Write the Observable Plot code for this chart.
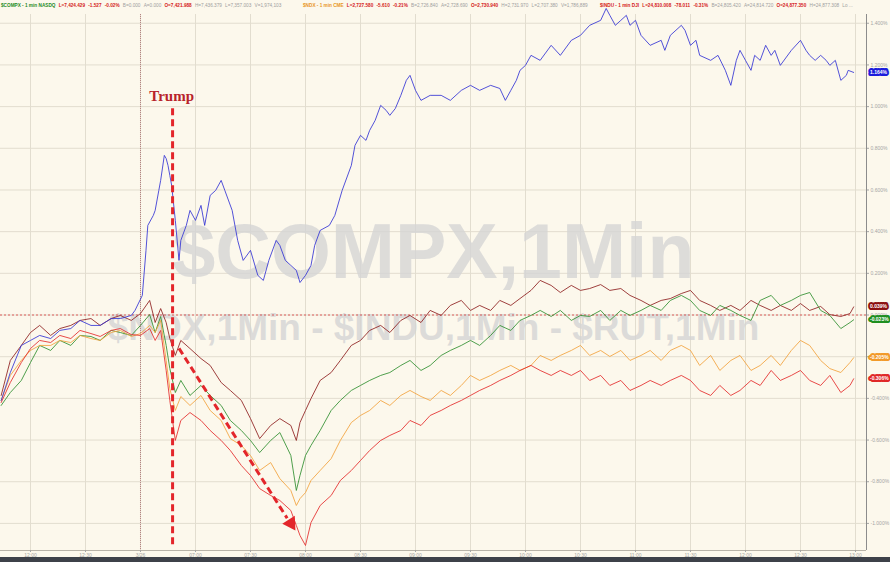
<!DOCTYPE html>
<html><head><meta charset="utf-8">
<script src="https://cdn.jsdelivr.net/npm/d3@7"></script>
<script src="https://cdn.jsdelivr.net/npm/@observablehq/plot@0.6"></script>
<style>
html,body{margin:0;padding:0;background:#fcf8ec;}
#wrap{width:890px;height:562px;overflow:hidden;background:#fcf8ec;}
#footer{height:5px;background:#3d4149;}
svg{display:block;}
</style></head><body><div id="wrap"><div id="header"></div><div id="chart"></div><div id="footer"></div></div>
<script>
// time in minutes from the first labelled tick; values in % change
const minutes = [-16,-11,-5,0,5,11,16,22,27,33,38,44,49,55,60,65,68,71,74,76,79,82,87,93,98,104,109,115,120,125,131,136,142,145,147,150,153,158,164,169,175,180,185,191,196,202,207,213,218,224,229,235,240,245,251,256,262,267,273,278,284,289,295,300,305,311,316,322,327,333,338,344,349,355,360,365,371,376,382,387,393,398,404,409,415,420,425,431,436,442,447,449];
const maroonPct = [-0.386,-0.218,-0.146,-0.084,-0.050,-0.098,-0.065,-0.050,-0.026,-0.017,-0.050,-0.017,-0.002,-0.026,0.007,0.070,
 -0.036,0.031,-0.036,-0.113,-0.194,-0.122,
 -0.161,-0.209,-0.242,-0.324,-0.362,-0.410,-0.497,-0.593,-0.530,-0.497,-0.530,
 -0.602,-0.516,-0.458,
 -0.401,-0.314,-0.276,-0.218,-0.146,-0.122,-0.074,-0.050,-0.084,-0.026,-0.002,-0.036,0.022,-0.002,0.046,0.070,0.022,0.046,0.022,0.070,0.046,0.079,0.118,0.166,0.142,0.108,0.142,0.118,0.127,0.146,0.118,0.127,0.094,0.070,0.046,0.070,0.079,0.103,0.118,0.070,0.046,0.022,0.046,0.022,0.070,0.046,0.022,0.046,0.022,0.055,0.022,0.041,0.002,-0.007,0.007,
 0.039];
const greenPct = [-0.434,-0.372,-0.314,-0.228,-0.146,-0.170,-0.122,-0.146,-0.098,-0.103,-0.122,-0.074,-0.084,-0.098,-0.050,0.002,
 -0.084,-0.007,-0.146,-0.257,-0.372,-0.314,
 -0.386,-0.338,-0.386,-0.434,-0.506,-0.554,-0.602,-0.660,-0.602,-0.564,-0.674,
 -0.842,-0.770,-0.674,
 -0.626,-0.554,-0.458,-0.410,-0.362,-0.338,-0.314,-0.290,-0.276,-0.242,-0.218,-0.266,-0.242,-0.194,-0.170,-0.146,-0.122,-0.146,-0.098,-0.050,-0.074,-0.026,-0.002,0.022,-0.007,0.022,-0.026,-0.002,-0.007,0.022,-0.026,0.022,-0.002,0.022,0.046,0.022,0.070,0.094,0.070,0.022,-0.002,0.046,0.022,-0.002,-0.026,0.070,0.094,0.046,0.070,0.094,0.108,0.022,-0.002,-0.065,-0.036,
 -0.023];
const orangePct = [-0.410,-0.290,-0.218,-0.170,-0.146,-0.146,-0.122,-0.132,-0.098,-0.113,-0.122,-0.084,-0.074,-0.103,-0.089,-0.050,
 -0.084,-0.026,-0.218,-0.353,-0.458,-0.391,
 -0.434,-0.386,-0.458,-0.506,-0.593,-0.626,-0.674,-0.746,-0.708,-0.785,-0.842,
 -0.914,-0.881,-0.852,
 -0.794,-0.746,-0.689,-0.602,-0.516,-0.482,-0.458,-0.410,-0.434,-0.386,-0.362,-0.391,-0.410,-0.362,-0.386,-0.338,-0.290,-0.314,-0.290,-0.266,-0.242,-0.266,-0.242,-0.194,-0.218,-0.194,-0.170,-0.146,-0.194,-0.170,-0.199,-0.170,-0.218,-0.194,-0.170,-0.218,-0.170,-0.146,-0.170,-0.242,-0.194,-0.266,-0.218,-0.194,-0.266,-0.242,-0.194,-0.242,-0.170,-0.122,-0.146,-0.218,-0.257,-0.276,-0.228,
 -0.205];
const redPct = [-0.420,-0.324,-0.228,-0.161,-0.122,-0.132,-0.098,-0.113,-0.074,-0.089,-0.103,-0.074,-0.065,-0.094,-0.098,-0.065,
 -0.122,-0.074,-0.266,-0.410,-0.602,-0.506,
 -0.468,-0.506,-0.554,-0.602,-0.650,-0.722,-0.770,-0.833,-0.866,-0.890,-0.938,
 -1.010,-1.058,-1.106,
 -0.996,-0.914,-0.866,-0.794,-0.746,-0.698,-0.650,-0.602,-0.578,-0.554,-0.506,-0.530,-0.482,-0.458,-0.434,-0.410,-0.386,-0.362,-0.338,-0.314,-0.290,-0.266,-0.242,-0.266,-0.290,-0.266,-0.290,-0.266,-0.314,-0.290,-0.338,-0.314,-0.362,-0.338,-0.314,-0.338,-0.314,-0.290,-0.314,-0.362,-0.386,-0.338,-0.386,-0.362,-0.314,-0.338,-0.266,-0.314,-0.290,-0.266,-0.314,-0.338,-0.290,-0.372,-0.338,
 -0.306];
const compxPairs = [[-16,-0.410],[-11,-0.276],[-5,-0.146],[0,-0.122],[5,-0.098],[11,-0.113],[16,-0.074],[22,-0.065],[27,-0.026],[33,-0.050],[38,-0.050],[44,-0.017],[49,-0.017],[55,-0.002],[57,0.022],[61,0.094],[63,0.310],[64,0.430],[67,0.478],[68,0.502],[70,0.598],[71,0.646],[73,0.766],[74,0.751],[75,0.718],[76,0.670],[77,0.622],[79,0.454],[81,0.262],[82,0.358],[85,0.430],[87,0.502],[90,0.454],[93,0.526],[95,0.430],[98,0.574],[101,0.598],[104,0.646],[106,0.598],[110,0.502],[113,0.358],[116,0.262],[120,0.310],[124,0.190],[127,0.166],[130,0.262],[134,0.358],[136,0.334],[139,0.262],[142,0.238],[145,0.214],[147,0.156],[150,0.190],[153,0.238],[155,0.334],[158,0.406],[163,0.430],[166,0.478],[170,0.598],[175,0.718],[177,0.814],[180,0.862],[183,0.838],[185,0.886],[188,0.934],[191,1.006],[194,0.982],[196,0.958],[199,0.991],[202,1.054],[205,1.126],[207,1.150],[210,1.078],[213,1.030],[218,1.054],[224,1.054],[229,1.030],[235,1.078],[240,1.102],[245,1.078],[251,1.102],[256,1.087],[259,1.030],[262,1.078],[265,1.126],[267,1.174],[270,1.198],[273,1.246],[278,1.222],[284,1.294],[289,1.246],[295,1.318],[300,1.342],[305,1.390],[311,1.414],[314,1.471],[316,1.438],[319,1.390],[322,1.414],[325,1.438],[327,1.390],[330,1.414],[333,1.342],[338,1.294],[344,1.318],[346,1.270],[349,1.342],[355,1.390],[357,1.366],[360,1.294],[363,1.318],[365,1.246],[371,1.222],[375,1.246],[379,1.174],[382,1.102],[385,1.222],[387,1.270],[390,1.222],[393,1.174],[395,1.246],[398,1.222],[401,1.294],[404,1.246],[406,1.270],[409,1.198],[415,1.270],[420,1.318],[423,1.270],[425,1.246],[428,1.222],[431,1.246],[434,1.222],[436,1.198],[439,1.222],[442,1.126],[445,1.150],[446,1.174],[449,1.164]];

const xTicks = [0,30,60,90,120,150,180,210,240,270,300,330,360,390,420,450];
const xLabels = ["12:00","12:30","3/26","07:00","07:30","08:00","08:30","09:00","09:30","10:00","10:30","11:00","11:30","12:00","12:30","13:00"];
const yTicks = [-1.0,-0.8,-0.6,-0.4,-0.2,0,0.2,0.4,0.6,0.8,1.0,1.2,1.4];
const xDomain = [-16.36, 456];
const yDomain = [-1.13, 1.442];
const sessionBreak = 60;
const trumpMinute = 77.5;
const trumpLineTop = 0.99, trumpLineBottom = -1.116, trumpLabelPct = 1.048;
const arrowFrom = [81, -0.16], arrowTo = [140, -0.975], arrowHead = [142, -1.0];

const G = "#1e8a1e", R = "#d42020", Y = "#a0a0a0", O = "#e8961e";
const headerGroups = [
 [1, [["$COMPX - 1 min NASDQ",G,1],["L=7,424.429",R,1],["-1.527",R,1],["-0.02%",R,1],["B=0.000",Y,0],["A=0.000",Y,0],["O=7,421.988",R,1],["H=7,436.379",Y,0],["L=7,357.003",Y,0],["V=1,974,103",Y,0]]],
 [303, [["$NDX - 1 min CME",O,1],["L=2,727.580",R,1],["-5.610",R,1],["-0.21%",R,1],["B=2,726.840",Y,0],["A=2,728.690",Y,0],["O=2,730.940",R,1],["H=2,731.970",Y,0],["L=2,707.380",Y,0],["V=1,786,889",Y,0]]],
 [600, [["$INDU - 1 min DJI",R,1],["L=24,810.008",R,1],["-78.011",R,1],["-0.31%",R,1],["B=24,805.420",Y,0],["A=24,814.720",Y,0],["O=24,877.350",R,1],["H=24,877.308",Y,0],["Lo ...",Y,0]]]
];

const bg = "#fcf8ec";
const grid = "#e2ddcf";
const series = [
 {name:"maroon", color:"#8e1f1f", box:"#8b1010", pts: minutes.map((t,i)=>({t, v: maroonPct[i]}))},
 {name:"green", color:"#2f8f2f", box:"#1f8f1f", pts: minutes.map((t,i)=>({t, v: greenPct[i]}))},
 {name:"orange", color:"#f2a23c", box:"#f29a2a", pts: minutes.map((t,i)=>({t, v: orangePct[i]}))},
 {name:"red", color:"#e42a2a", box:"#e02828", pts: minutes.map((t,i)=>({t, v: redPct[i]}))},
 {name:"$COMPX", color:"#3434d4", box:"#1c1cdc", pts: compxPairs.map(([t,v])=>({t, v}))}
];

// header
const hdr = d3.create("svg").attr("width",890).attr("height",14).style("background",bg);
const gText = hdr.selectAll("text").data(headerGroups).join("text")
  .attr("x", d=>d[0]).attr("y", 7)
  .attr("font-family","Liberation Sans, Arial, sans-serif")
  .attr("font-size", 4.7);
gText.selectAll("tspan").data(d=>d[1]).join("tspan")
  .attr("dx", (d,i)=> i ? 3.2 : 0)
  .attr("font-weight", d=>d[2] ? "bold" : "normal")
  .attr("fill", d=>d[1]).text(d=>d[0]);
document.getElementById("header").appendChild(hdr.node());

const red = "#e3262b";
const marks = [
  Plot.gridY(yTicks, {stroke: grid, strokeOpacity: 1}),
  Plot.gridX(xTicks, {stroke: grid, strokeOpacity: 1}),
  Plot.text(["$COMPX,1Min"], {text: d=>d, frameAnchor:"middle", dy:-29, fontSize:77, fontWeight:"bold", fill:"#d4d4d4", fillOpacity:0.8}),
  Plot.text(["$NDX,1Min - $INDU,1Min - $RUT,1Min"], {text: d=>d, frameAnchor:"middle", dy:46, fontSize:37, fontWeight:"bold", fill:"#d4d4d4", fillOpacity:0.8}),
  Plot.ruleX([sessionBreak], {stroke:"#b07878", strokeDasharray:"1,1", strokeWidth:0.9}),
  Plot.ruleY([0], {stroke:"#d83a3a", strokeDasharray:"2,2", strokeWidth:0.8}),
  ...series.map(s => Plot.line(s.pts, {x:"t", y:"v", stroke:s.color, strokeWidth:0.85})),
  Plot.ruleY([yDomain[0]], {stroke:"#b8b3a8"}),
  Plot.ruleX([xDomain[1]], {stroke:"#8c8c8c"}),
  Plot.ruleX([trumpMinute], {y1: trumpLineTop, y2: trumpLineBottom, stroke: red, strokeWidth:3, strokeDasharray:"7,4"}),
  Plot.text(["Trump"], {text:d=>d, x: ()=>trumpMinute - 0.5, y: ()=>trumpLabelPct, fontFamily:"Liberation Serif, DejaVu Serif, serif", fontWeight:"bold", fontSize:15, fill:"#b8232a"}),
  Plot.link([0], {x1: ()=>arrowFrom[0], y1: ()=>arrowFrom[1], x2: ()=>arrowTo[0], y2: ()=>arrowTo[1], stroke: red, strokeWidth:3, strokeDasharray:"7,4"}),
  Plot.dot([0], {x: ()=>arrowHead[0], y: ()=>arrowHead[1], symbol:"triangle", r:5.5, fill: red, rotate:147.5}),
  Plot.axisX(xTicks, {anchor:"bottom", label:null, tickSize:2, tickPadding:1, fontSize:5, color:"#a5a5a5", tickFormat: d => xLabels[xTicks.indexOf(d)]}),
  Plot.axisY(yTicks, {anchor:"right", label:null, tickSize:2, tickPadding:2, fontSize:5, color:"#a5a5a5", tickFormat: d => d.toFixed(3) + "%"}),
  ...series.map(s => {
    const last = s.pts[s.pts.length-1].v;
    return Plot.text([last], {y: d=>d, text: d=>d.toFixed(3)+"%", frameAnchor:"right", textAnchor:"start", dx:3.5, fontSize:5, fontWeight:"bold", fill:"white", stroke:s.box, strokeWidth:4.2, strokeLinejoin:"round", paintOrder:"stroke"});
  })
];

const chart = Plot.plot({
  width: 890, height: 543,
  marginLeft: 0, marginRight: 24, marginTop: 0, marginBottom: 7,
  x: {domain: xDomain, label: null},
  y: {domain: yDomain, label: null},
  style: {background: bg, fontFamily: "Liberation Sans, Arial, sans-serif", overflow: "visible", maxWidth: "none"},
  marks
});
document.getElementById("chart").appendChild(chart);
</script></body></html>
